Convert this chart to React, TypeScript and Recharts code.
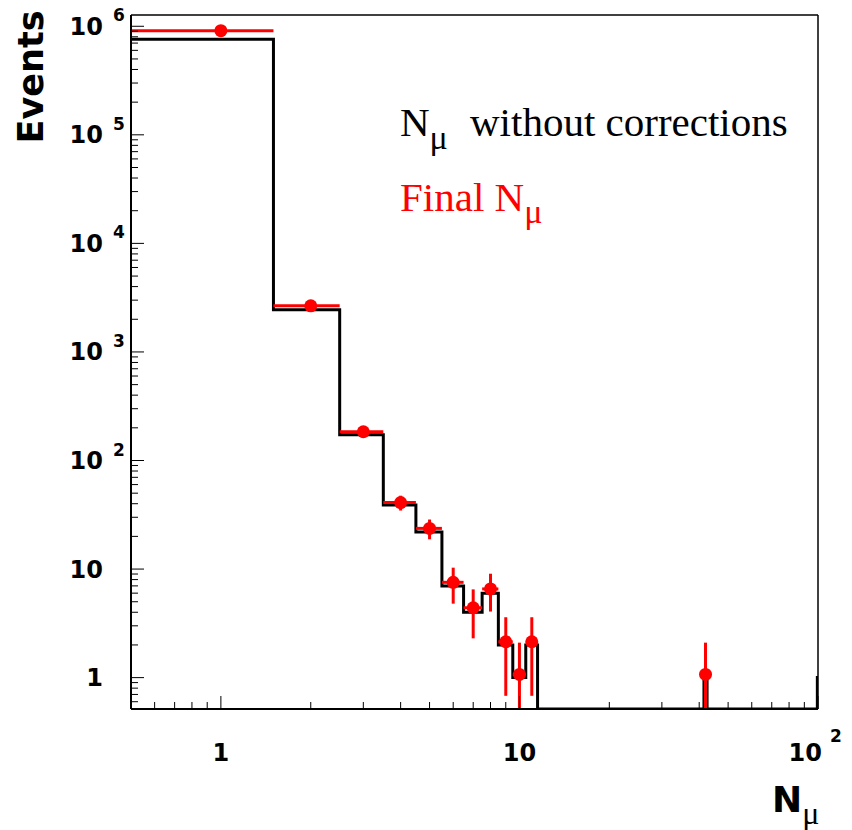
import React from "react";
import {
  ComposedChart, Line, Scatter, ErrorBar, XAxis, YAxis, ReferenceLine,
} from "recharts";

// bin centres (bin width 1)
const binCenters = [1, 2, 3, 4, 5, 6, 7, 8, 9, 10, 11, 42, 100];
// N_mu without corrections (black histogram)
const rawCounts = [760000, 2450, 173, 39, 22, 7, 4, 6, 2, 1, 2, 1, 1];

// final N_mu (red points), same centres minus the overflow bin at 100
const finalCenters = [1, 2, 3, 4, 5, 6, 7, 8, 9, 10, 11, 42];
const finalCounts = [910000, 2660, 184, 41, 23.7, 7.55, 4.4, 6.56, 2.14, 1.07, 2.14, 1.07];
const finalErrors = [950, 52, 13.6, 6.4, 4.9, 2.75, 2.1, 2.5, 1.46, 1.03, 1.46, 1.03];

const X_MIN = 0.5;
const X_MAX = 100;
const Y_MIN = 0.514;
const Y_MAX = 1.27e6;

const xMajor = [1, 10, 100];
const xTickBase = ["1", "10", "10"];
const xTickExp = ["", "", "2"];

const yMajor = [1, 10, 100, 1e3, 1e4, 1e5, 1e6];
const yTickBase = ["1", "10", "10", "10", "10", "10", "10"];
const yTickExp = ["", "", "2", "3", "4", "5", "6"];

const RED = "#ff0000";
const BOLD = "DejaVu Sans";

function minorTicks(majors: number[], lo: number, hi: number) {
  const out: number[] = [];
  const decades = [majors[0] / 10, ...majors];
  decades.forEach((d) => {
    for (let k = 1; k <= 9; k++) {
      const v = +(d * k).toPrecision(6);
      if (v >= lo && v <= hi) out.push(v);
    }
  });
  return Array.from(new Set(out)).sort((a, b) => a - b);
}

const xTicks = minorTicks(xMajor, X_MIN * 1.01, X_MAX);
const yTicks = minorTicks(yMajor, Y_MIN, Y_MAX);

// step points for the histogram; empty bins sit on the bottom of the frame
const histPoints: { x: number; y: number }[] = [];
let prevHi: number | null = null;
binCenters.forEach((c, i) => {
  const lo = c - 0.5;
  if (prevHi !== null && lo > prevHi) histPoints.push({ x: prevHi, y: Y_MIN });
  histPoints.push({ x: lo, y: rawCounts[i] });
  prevHi = c + 0.5;
});
histPoints.push({ x: prevHi as unknown as number, y: rawCounts[rawCounts.length - 1] });

// lower error stops at the frame bottom, as the original plot does
const finalPoints = finalCenters.map((c, i) => ({
  x: c,
  y: finalCounts[i],
  ey: [Math.min(finalErrors[i], finalCounts[i] - Y_MIN), finalErrors[i]],
  ex: [0.5, 0.5],
}));

function XTick(props: any) {
  const { x, y, payload } = props;
  const i = xMajor.indexOf(payload.value);
  const major = i >= 0;
  return (
    <g>
      <line x1={x} x2={x} y1={y} y2={y - (major ? 13 : 7)} stroke="#000" strokeWidth={1} />
      {major && !xTickExp[i] && (
        <text x={x} y={y + 52} textAnchor="middle" fontFamily={BOLD} fontWeight="bold" fontSize={24} fill="#000">
          {xTickBase[i]}
        </text>
      )}
      {major && xTickExp[i] && (
        <g>
          <text x={x + 4} y={y + 52} textAnchor="end" fontFamily={BOLD} fontWeight="bold" fontSize={24} fill="#000">
            {xTickBase[i]}
          </text>
          <text x={x + 12} y={y + 33} fontFamily={BOLD} fontWeight="bold" fontSize={17} fill="#000">
            {xTickExp[i]}
          </text>
        </g>
      )}
    </g>
  );
}

function YTick(props: any) {
  const { x, y, payload } = props;
  const i = yMajor.indexOf(payload.value);
  const major = i >= 0;
  return (
    <g>
      <line x1={x} x2={x + (major ? 13 : 7)} y1={y} y2={y} stroke="#000" strokeWidth={1} />
      {major && (
        <text x={x - 28} y={y + 8.5} textAnchor="end" fontFamily={BOLD} fontWeight="bold" fontSize={24} fill="#000">
          {yTickBase[i]}
        </text>
      )}
      {major && yTickExp[i] && (
        <text x={x - 18} y={y - 5} fontFamily={BOLD} fontWeight="bold" fontSize={17} fill="#000">
          {yTickExp[i]}
        </text>
      )}
    </g>
  );
}

export default function App() {
  return (
    <div style={{ position: "absolute", left: 0, top: 0, width: 852, height: 830, background: "#fff" }}>
      <ComposedChart width={852} height={830} margin={{ top: 15, right: 34, left: 0, bottom: 0 }}>
        <XAxis
          dataKey="x" type="number" scale="log" domain={[X_MIN, X_MAX]} allowDataOverflow
          ticks={xTicks} interval={0} tick={<XTick />} tickLine={false} tickSize={0} tickMargin={0}
          axisLine={{ stroke: "#000", strokeWidth: 2 }} height={121}
        />
        <YAxis
          dataKey="y" type="number" scale="log" domain={[Y_MIN, Y_MAX]} allowDataOverflow
          ticks={yTicks} interval={0} tick={<YTick />} tickLine={false} tickSize={0} tickMargin={0}
          axisLine={{ stroke: "#000", strokeWidth: 2 }} width={131}
        />
        <ReferenceLine y={Y_MAX} stroke="#000" strokeWidth={1.5} />
        <ReferenceLine x={X_MAX} stroke="#000" strokeWidth={1.5} />
        <Line
          data={histPoints} dataKey="y" type="stepAfter" stroke="#000" strokeWidth={3}
          dot={false} activeDot={false} isAnimationActive={false}
        />
        <Scatter
          data={finalPoints} fill={RED} isAnimationActive={false}
          shape={(p: any) => <circle cx={p.cx} cy={p.cy} r={6.5} fill={RED} />}
        >
          <ErrorBar dataKey="ey" direction="y" width={0} stroke={RED} strokeWidth={3} />
          <ErrorBar dataKey="ex" direction="x" width={0} stroke={RED} strokeWidth={3} />
        </Scatter>
      </ComposedChart>
      <svg width={852} height={830} style={{ position: "absolute", left: 0, top: 0, pointerEvents: "none" }}>
        <text
          x={43} y={77} transform="rotate(-90 43 77)" textAnchor="middle"
          fontFamily={BOLD} fontWeight="bold" fontSize={35} fill="#000"
        >
          Events
        </text>
        <text x={772} y={812} fontFamily={BOLD} fontWeight="bold" fontSize={36} fill="#000">
          N
          <tspan dy={12} fontFamily="Liberation Serif" fontWeight="normal" fontSize={32}>μ</tspan>
        </text>
        <text x={400} y={136} fontFamily="Liberation Serif" fontSize={41} fill="#000">
          N
          <tspan dy={13} fontSize={34}>μ</tspan>
          <tspan x={470} dy={-13}>without corrections</tspan>
        </text>
        <text x={400} y={211} fontFamily="Liberation Serif" fontSize={41} fill={RED}>
          Final N
          <tspan dy={12} fontSize={34}>μ</tspan>
        </text>
      </svg>
    </div>
  );
}
